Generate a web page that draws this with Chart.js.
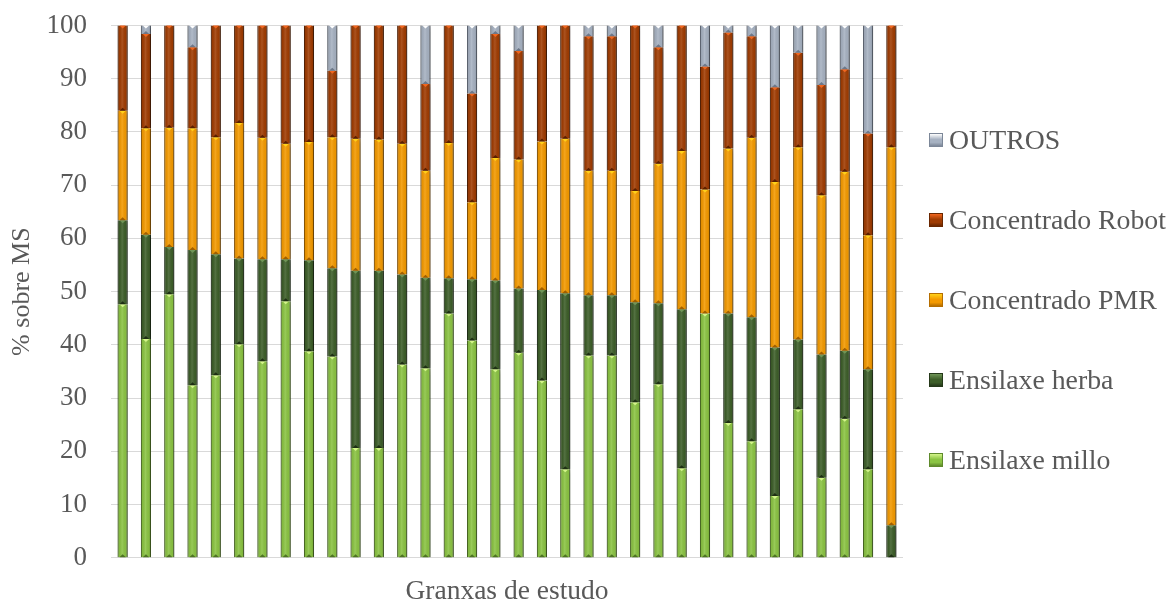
<!DOCTYPE html>
<html>
<head>
<meta charset="utf-8">
<title>Composición da ración por granxa</title>
<script src="https://cdn.jsdelivr.net/npm/chart.js@4.4.1/dist/chart.umd.min.js"></script>
<style>
  html, body { margin: 0; padding: 0; background: #ffffff; }
  #wrap { position: relative; width: 1171px; height: 606px; }
  #grafico { position: absolute; left: 0; top: 0; }
  #lenda { position: absolute; left: 929px; top: 0; font-family: "Liberation Serif", "Times New Roman", serif; color: #595959; }
  .item { position: absolute; left: 0; display: flex; align-items: center; white-space: nowrap; font-size: 27.8px; line-height: 1; }
  .caixa { width: 14px; height: 14px; box-sizing: border-box; margin-right: 6px; }
</style>
</head>
<body>
<div id="wrap">
  <canvas id="grafico" width="1171" height="606"></canvas>
  <div id="lenda"></div>
</div>
<script>
// Granxas (categorías do eixo X, sen etiqueta visible)
const granxas = ['1','2','3','4','5','6','7','8','9','10','11','12','13','14','15','16','17',
                 '18','19','20','21','22','23','24','25','26','27','28','29','30','31','32','33','34'];

// Porcentaxe sobre materia seca de cada compoñente
const ensilaxeMillo    = [47.6, 41.1, 49.5, 32.4, 34.3, 40.1, 36.9, 48.2, 38.8, 37.8, 20.6, 20.6, 36.3, 35.6, 45.9, 40.8, 35.4,
                          38.5, 33.3, 16.6, 38.0, 38.0, 29.2, 32.6, 16.8, 45.9, 25.3, 21.9, 11.6, 27.9, 15.0, 26.1, 16.6, 0];
const ensilaxeHerba    = [15.8, 19.6, 8.9, 25.4, 22.7, 16.1, 19.2, 7.9, 17.1, 16.6, 33.3, 33.3, 16.9, 17.0, 6.6, 11.5, 16.7,
                          12.1, 17.0, 33.1, 11.3, 11.3, 18.8, 15.2, 29.9, 0, 20.6, 23.3, 27.9, 13.1, 23.2, 12.8, 18.8, 6.1];
const concentradoPMR   = [20.6, 20.0, 22.4, 22.9, 22.0, 25.5, 22.8, 21.7, 22.2, 24.6, 24.8, 24.7, 24.6, 20.1, 25.4, 14.5, 23.0,
                          24.2, 27.9, 29.0, 23.4, 23.4, 20.9, 26.2, 29.7, 23.3, 31.0, 33.7, 31.1, 36.1, 29.9, 33.6, 25.2, 71.0];
const concentradoRobot = [16.0, 17.7, 19.2, 15.2, 21.0, 18.3, 21.1, 22.2, 21.9, 12.5, 21.3, 21.4, 22.2, 16.3, 22.1, 20.4, 23.3,
                          20.4, 21.8, 21.3, 25.3, 25.3, 31.1, 21.9, 23.6, 23.1, 21.8, 19.1, 17.8, 17.8, 20.7, 19.3, 19.1, 22.9];
const outros           = [0, 1.6, 0, 4.1, 0, 0, 0, 0, 0, 8.5, 0, 0, 0, 11.0, 0, 12.8, 1.6,
                          4.8, 0, 0, 2.0, 2.0, 0, 4.1, 0, 7.7, 1.3, 2.0, 11.6, 5.1, 11.2, 8.2, 20.3, 0];

// Ticks do eixo Y
const ticksY = [0, 10, 20, 30, 40, 50, 60, 70, 80, 90, 100];

// Estilo de cada serie: recheo, bordo, realce superior e sombra inferior
const estilos = [
  { fill: '#8BC443', edge: '#5F8A2C', hi: '#D4F58A', lo: '#4E7424' },
  { fill: '#3D5E29', edge: '#25391A', hi: '#6F9557', lo: '#1E2F14' },
  { fill: '#F49A00', edge: '#B56E00', hi: '#FFD21A', lo: '#A05F00' },
  { fill: '#A03C02', edge: '#6A2700', hi: '#F2661E', lo: '#5A2000' },
  { fill: '#A7B2C2', edge: '#7C8798', hi: '#FFFFFF', lo: '#6D7889' }
];

const series = [
  { label: 'Ensilaxe millo',    data: ensilaxeMillo },
  { label: 'Ensilaxe herba',    data: ensilaxeHerba },
  { label: 'Concentrado PMR',   data: concentradoPMR },
  { label: 'Concentrado Robot', data: concentradoRobot },
  { label: 'OUTROS',            data: outros }
];

const fonteSerif = '"Liberation Serif", "Times New Roman", serif';
const gris = '#595959';

// Sombra suave baixo as barras e relevo (bisel) encima de cada segmento
const relevoBarras = {
  id: 'relevoBarras',
  beforeDatasetsDraw(chart) {
    const ctx = chart.ctx;
    ctx.save();
    ctx.shadowColor = 'rgba(0,0,0,0.3)';
    ctx.shadowBlur = 5;
    ctx.shadowOffsetX = 1.5;
    ctx.shadowOffsetY = 1.5;
  },
  afterDatasetsDraw(chart) {
    const ctx = chart.ctx;
    ctx.restore();
    ctx.save();
    chart.data.datasets.forEach((ds, di) => {
      const meta = chart.getDatasetMeta(di);
      const st = estilos[di];
      meta.data.forEach(el => {
        const p = el.getProps(['x', 'y', 'base', 'width'], true);
        const top = Math.min(p.y, p.base), bot = Math.max(p.y, p.base);
        const h = bot - top;
        if (h < 0.8) return;
        const l = p.x - p.width / 2, r = p.x + p.width / 2;
        const g = ctx.createLinearGradient(l, 0, r, 0);
        g.addColorStop(0, 'rgba(0,0,0,0.32)');
        g.addColorStop(0.16, 'rgba(0,0,0,0.06)');
        g.addColorStop(0.45, 'rgba(255,255,255,0.12)');
        g.addColorStop(0.82, 'rgba(0,0,0,0.04)');
        g.addColorStop(1, 'rgba(0,0,0,0.38)');
        ctx.fillStyle = g;
        ctx.fillRect(l, top, p.width, h);
        const tw = p.width * 0.32, th = Math.min(3, h / 2);
        ctx.fillStyle = st.hi;
        ctx.beginPath();
        ctx.moveTo(p.x - tw, top);
        ctx.lineTo(p.x + tw, top);
        ctx.lineTo(p.x, top + th);
        ctx.closePath();
        ctx.fill();
        ctx.fillStyle = st.lo;
        ctx.beginPath();
        ctx.moveTo(p.x - tw, bot);
        ctx.lineTo(p.x + tw, bot);
        ctx.lineTo(p.x, bot - th);
        ctx.closePath();
        ctx.fill();
      });
    });
    ctx.restore();
  }
};

const grafico = new Chart(document.getElementById('grafico'), {
  type: 'bar',
  data: {
    labels: granxas,
    datasets: series.map((s, i) => ({
      label: s.label,
      data: s.data,
      backgroundColor: estilos[i].fill,
      borderColor: estilos[i].edge,
      borderWidth: { left: 1, right: 1, top: 0, bottom: 0 },
      borderSkipped: false,
      categoryPercentage: 0.48,
      barPercentage: 0.9
    }))
  },
  options: {
    responsive: false,
    animation: false,
    devicePixelRatio: 1,
    layout: { padding: { top: 25.5, right: 268, bottom: 0, left: 0 } },
    plugins: {
      legend: { display: false },
      tooltip: { enabled: false }
    },
    scales: {
      x: {
        stacked: true,
        grid: { display: false },
        border: { display: false },
        ticks: { display: false },
        title: {
          display: true,
          text: 'Granxas de estudo',
          color: gris,
          font: { family: fonteSerif, size: 27.5, lineHeight: 1 },
          padding: { top: 0, bottom: 0 }
        },
        afterFit(scale) { scale.height = 48.3; }
      },
      y: {
        stacked: true,
        min: ticksY[0],
        max: ticksY[ticksY.length - 1],
        afterBuildTicks(scale) { scale.ticks = ticksY.map(v => ({ value: v })); },
        grid: { color: '#D9D9D9', lineWidth: 1, drawTicks: true, tickLength: 24, tickColor: 'rgba(0,0,0,0)' },
        border: { display: false },
        ticks: {
          color: gris,
          padding: 0,
          font: { family: fonteSerif, size: 27 }
        },
        title: {
          display: true,
          text: '% sobre MS',
          color: gris,
          font: { family: fonteSerif, size: 26, lineHeight: 1.2 },
          padding: { top: 7, bottom: 0 }
        },
        afterFit(scale) { scale.width = 111; }
      }
    }
  },
  plugins: [relevoBarras]
});

// Lenda á dereita, na orde inversa das series
const lenda = document.getElementById('lenda');
grafico.data.datasets.slice().reverse().forEach((ds, k) => {
  const idx = grafico.data.datasets.length - 1 - k;
  const st = estilos[idx];
  const item = document.createElement('div');
  item.className = 'item';
  item.style.top = (140 + 80 * k - 14) + 'px';
  item.style.height = '28px';
  const caixa = document.createElement('span');
  caixa.className = 'caixa';
  caixa.style.background = 'linear-gradient(180deg, ' + st.hi + ' 0%, ' + st.fill + ' 45%, ' + st.fill + ' 70%, ' + st.edge + ' 100%)';
  caixa.style.border = '1px solid ' + st.edge;
  const txt = document.createElement('span');
  txt.textContent = ds.label;
  item.appendChild(caixa);
  item.appendChild(txt);
  lenda.appendChild(item);
});
</script>
</body>
</html>
